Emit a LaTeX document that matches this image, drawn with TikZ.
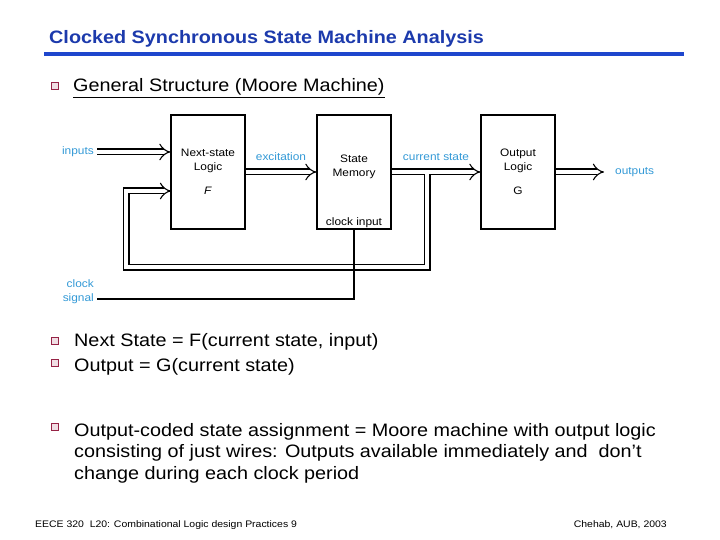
\documentclass[tikz,border=0pt]{standalone}
\usepackage{fontspec}
\setmainfont{Liberation Sans}[FakeStretch=1.1]
\usetikzlibrary{arrows.meta,positioning}
\definecolor{titleblue}{RGB}{28,58,172}
\definecolor{ruleblue}{RGB}{30,70,205}
\definecolor{wireblue}{RGB}{51,153,214}
\definecolor{bulletred}{RGB}{150,35,70}
\definecolor{bulletfill}{RGB}{240,222,228}
\tikzset{
  blk/.style={draw,line width=1.1pt,minimum width=74pt,minimum height=114pt,align=center,font=\fontsize{10.8}{14}\selectfont},
  sig/.style={text=wireblue,font=\fontsize{10.8}{14}\selectfont,inner sep=1pt},
  intext/.style={font=\fontsize{10.8}{14}\selectfont,inner sep=1pt,align=center},
  dbl/.style={double,double distance=4.8pt,line width=1.1pt},
  bul/.style={draw=bulletred,fill=bulletfill,line width=1.3pt,minimum size=7pt,inner sep=0pt},
  body/.style={anchor=base west,inner sep=0pt,font=\fontsize{18}{21.5}\selectfont,align=left},
  foot/.style={inner sep=0pt,font=\fontsize{9.5}{11}\selectfont},
}
\begin{document}
\begin{tikzpicture}[x=1pt,y=-1pt,line cap=butt,line join=miter]
\useasboundingbox (0,0) rectangle (720,540);
%title and rule
\node[anchor=base west,inner sep=0pt,text=titleblue,font=\fontsize{18}{21}\selectfont\bfseries] (title) at (49,44) {Clocked Synchronous State Machine Analysis};
\draw[ruleblue,line width=4pt] (44,54) -- (684,54);
%first bullet
\node[bul] (b0) at (55,86) {};
\node[body] (gen) at (73,92) {\underline{General Structure (Moore Machine)}};

%the three blocks
\node[blk] (ns) at (208,172) {Next-state\\Logic\\[10pt]\textit{F}};
\node[blk] (sm) at (354,172) {};
\node[intext] (smt) at (354,167) {State\\Memory};
\node[intext,above=1pt of sm.south] (smc) {clock input};
\node[blk] (og) at (518,172) {Output\\Logic\\[10pt]G};

%signal names
\node[sig,anchor=east] (inl) at (95,152) {inputs};
\node[sig] (exl) at (281,157) {excitation};
\node[sig] (csl) at (436,157) {current state};
\node[sig,anchor=west] (outl) at (614,172) {outputs};
\node[sig,anchor=east,align=right] (clkl) at (95,292) {clock\\signal};

%feedback corners
\coordinate (inst) at (97,152);
\coordinate (tap) at (427,172);
\coordinate (ogpre) at (455,172);
\coordinate (fbR) at (427,267);
\coordinate (fbL) at (126,267);
\coordinate (fbin) at (171,191);
\coordinate (clkin) at (97,299);

%double wires
\draw[dbl,-Implies] (inst) -- (inst -| ns.west);
\draw[dbl,-Implies] (ns.east) -- (sm.west);
\draw[dbl,-Implies] (sm.east) -- (ogpre)
      (tap) -- (fbR) -- (fbL) -- (fbL |- fbin) -- (fbin);
\draw[dbl,-Implies] (ogpre) -- (og.west);
\draw[dbl,-Implies] (og.east) -- ([xshift=-10pt]outl.west);
%clock line
\draw[line width=1.1pt] (clkin) -- (clkin -| sm.south) -- (sm.south);

%remaining bullets
\node[bul] (b1) at (55,341) {};
\node[body] (t1) at (74,346) {Next State = F(current state, input)};
\node[bul] (b2) at (55,363) {};
\node[body] (t2) at (74,371) {Output = G(current state)};
\node[bul] (b3) at (55,427) {};
\node[body,anchor=north west] (t3) at (74,423) {Output-coded state assignment = Moore machine with output logic\\consisting of just wires: Outputs available immediately and\ \ don't\\change during each clock period};

%footer
\node[foot,anchor=base west] (fl) at (35,527) {EECE 320\ \ L20: Combinational Logic design Practices 9};
\node[foot,anchor=base east] (fr) at (667,527) {Chehab, AUB, 2003};
\end{tikzpicture}
\end{document}
